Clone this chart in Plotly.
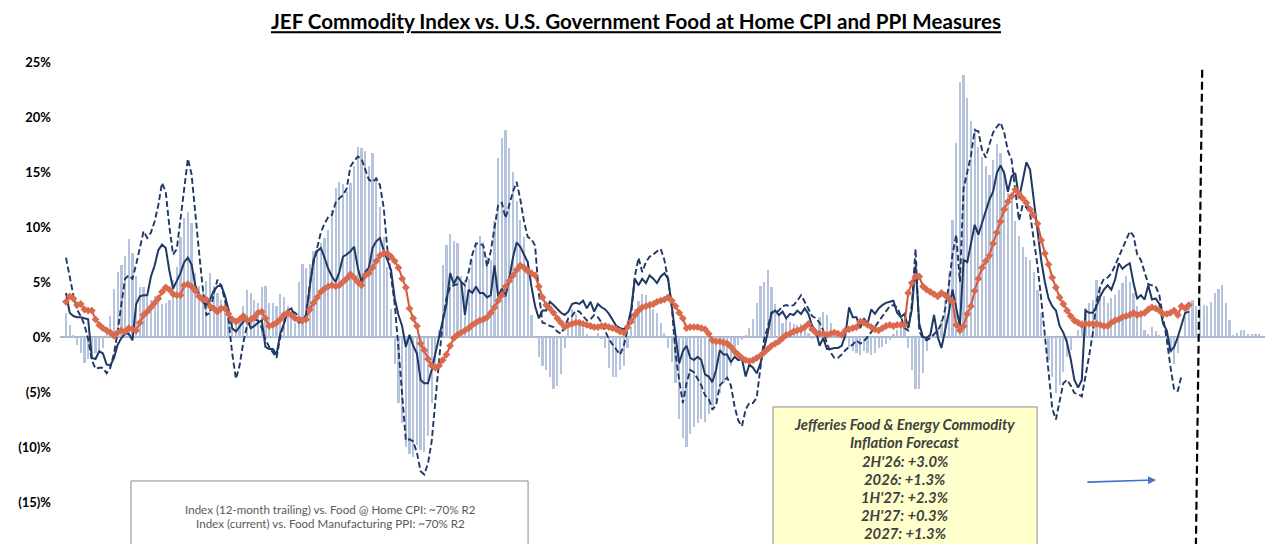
import plotly.graph_objects as go

# JEF commodity index YoY (bars), monthly, incl. forecast tail
jef_index = [
 2.2, 1.1, 0.1, -0.7, -1.5, -2.4, -2.0, -1.5, -1.5, -1.2,
 -1.0, 0.5, 1.9, 4.4, 5.9, 6.5, 7.4, 8.9, 7.6, 5.5,
 4.5, 4.5, 3.7, 3.4, 3.7, 3.2, 3.0, 3.1, 3.4, 5.2,
 6.4, 9.1, 10.8, 11.4, 10.4, 5.8, 4.6, 4.3, 5.1, 5.8,
 4.6, 4.0, 3.4, 2.8, 2.2, 1.9, 1.4, 1.6, 2.8, 4.3,
 4.0, 3.4, 3.1, 4.5, 4.6, 3.1, 3.1, 2.8, 3.9, 3.6,
 2.8, 2.2, 1.3, 5.0, 6.6, 6.3, 6.6, 7.8, 8.0, 8.5,
 9.0, 9.7, 11.5, 13.5, 14.1, 13.9, 13.3, 14.0, 15.5, 17.3,
 17.2, 16.9, 15.5, 16.7, 14.5, 11.8, 9.1, 6.4, 2.5, -2.5,
 -6.0, -7.8, -10.0, -10.6, -10.9, -9.8, -10.3, -10.5, -9.0, -6.0,
 -2.8, 0.6, 6.5, 8.4, 9.4, 8.7, 8.5, 5.5, 5.2, 5.3,
 7.0, 8.5, 9.2, 8.6, 7.3, 7.0, 10.5, 16.3, 18.1, 18.8,
 17.2, 15.0, 12.4, 10.6, 9.1, 7.0, 2.0, -0.1, -1.8, -2.6,
 -3.0, -3.6, -4.7, -4.5, -3.4, -1.0, 1.0, 2.5, 2.1, 1.3,
 0.8, 0.3, 0.0, -0.1, 0.4, -0.2, -1.0, -2.8, -3.6, -3.6,
 -3.0, -2.6, -1.0, 0.9, 2.5, 3.3, 3.9, 3.8, 3.3, 2.5,
 2.2, 1.3, 0.4, -1.0, -2.3, -4.2, -7.5, -9.2, -10.0, -8.8,
 -8.2, -7.8, -7.5, -7.7, -7.0, -6.3, -5.8, -5.1, -4.2, -3.6,
 -2.6, -1.6, -0.7, -0.3, 0.1, 0.8, 1.6, 3.1, 4.6, 5.0,
 6.1, 4.5, 3.0, 2.0, 1.3, 1.7, 1.4, 1.2, 1.1, 1.2,
 0.9, 0.4, -0.2, 0.5, 1.8, 2.3, 2.0, 1.3, 0.0, 0.5,
 0.3, -0.3, -0.9, -1.3, -1.5, -1.6, -1.3, -1.5, -1.6, -1.5,
 -1.0, -0.9, -0.6, -0.3, 0.3, 0.6, 1.2, 1.2, -1.0, -3.0,
 -4.7, -4.7, -3.3, -1.3, 0.0, 0.3, 0.6, 1.5, 3.4, 5.8,
 10.6, 17.6, 23.2, 23.8, 21.7, 19.6, 19.0, 17.3, 16.4, 15.5,
 14.7, 16.1, 17.5, 16.7, 15.2, 13.1, 12.5, 10.5, 9.2, 8.2,
 7.3, 7.0, 5.9, 4.3, 2.2, 0.0, -2.1, -3.6, -5.1, -4.4,
 -3.2, -1.8, -1.2, 0.0, 0.6, 1.5, 2.6, 3.1, 3.4, 5.2,
 4.6, 3.7, 3.1, 3.5, 3.8, 4.3, 4.9, 5.5, 5.0, 4.0,
 2.8, 1.8, 0.6, 0.3, 0.9, 0.5, 0.2, -0.1, -0.6, -1.5,
 -2.5, -1.5, 0.0, 1.8, 2.8, 3.4, 2.8, 2.9, 2.9, 2.8,
 3.2, 4.0, 4.4, 4.7, 3.1, 1.5, 0.2, 0.4, 0.6, 0.6,
 0.3, 0.3, 0.3, 0.3,
]

# Index 12-month trailing (solid)
index_trailing = [
 4.0, 2.2, 1.9, 1.8, 1.8, 1.7, 1.6, -1.9, -2.0, -1.3,
 -1.5, -2.5, -2.6, -1.9, -0.7, -0.1, 0.3, 0.3, -0.3, 3.0,
 3.7, 3.8, 3.8, 5.5, 6.5, 7.9, 8.4, 8.1, 6.0, 4.4,
 5.1, 5.8, 6.8, 7.2, 6.6, 4.7, 3.9, 3.2, 2.9, 3.4,
 4.2, 4.6, 4.7, 3.8, 2.5, 0.8, 0.5, 1.0, 1.4, 1.7,
 0.8, 1.0, 1.3, 1.5, -0.9, -1.1, -1.1, -1.6, 0.3, 1.2,
 2.4, 2.6, 1.8, 1.3, 1.4, 2.0, 4.5, 7.0, 7.8, 8.1,
 7.2, 6.2, 5.5, 5.0, 5.9, 7.3, 7.5, 7.8, 8.2, 6.3,
 5.0, 5.9, 6.3, 8.1, 8.7, 9.0, 7.9, 7.0, 6.1, 3.5,
 2.0, 1.0, -0.9, 0.2, -0.8, -1.5, -3.9, -4.2, -4.2, -3.0,
 -1.5, 0.0, 1.6, 3.0, 5.8, 4.8, 5.5, 5.0, 2.0, 4.3,
 4.0, 4.6, 4.0, 4.0, 3.6, 3.8, 6.5, 3.7, 4.4, 3.7,
 5.3, 7.2, 8.6, 8.2, 7.5, 6.8, 4.6, 2.8, 1.7, 2.4,
 2.4, 3.2, 2.9, 2.5, 2.2, 2.0, 2.3, 3.0, 3.1, 3.0,
 3.3, 2.6, 3.2, 2.3, 3.0, 2.7, 2.5, 2.1, 1.5, 1.0,
 0.8, 0.7, 1.0, 2.5, 5.3, 4.7, 5.3, 4.9, 5.6, 5.3,
 4.9, 5.5, 5.8, 5.3, 2.8, 0.1, -2.4, -1.3, -0.8, -1.9,
 -2.1, -1.8, -2.1, -3.4, -3.6, -4.1, -3.0, -1.2, -1.6, -1.6,
 -2.3, -1.8, -2.1, -2.0, -3.6, -2.5, -2.8, -3.3, -2.4, -1.0,
 0.4, 2.2, 2.4, 2.0, 2.3, 1.7, 2.1, 2.0, 2.4, 2.1,
 2.6, 2.1, 1.0, 0.6, -0.8, -0.1, -1.1, -1.1, -1.0, -1.0,
 -0.8, 0.2, 2.7, 1.8, 1.8, 0.8, 1.7, 1.2, 2.5, 2.1,
 2.6, 2.9, 3.1, 3.2, 3.3, 2.2, 1.8, 2.1, 0.8, 2.5,
 6.5, 1.2, 0.0, -0.1, 0.2, 2.0, 0.0, -1.0, 0.7, 2.2,
 4.3, 2.5, 1.0, 7.0, 6.8, 8.5, 10.2, 9.3, 10.4, 11.6,
 12.5, 13.2, 14.9, 15.6, 14.9, 13.2, 14.6, 14.9, 12.6, 14.2,
 15.9, 15.2, 12.5, 10.0, 7.0, 5.0, 3.5, 2.8, 2.4, 1.0,
 0.4, -0.5, -2.0, -3.9, -4.6, -3.9, 2.4, 2.2, 2.2, 2.8,
 3.7, 4.3, 4.7, 4.3, 5.2, 6.7, 6.2, 6.5, 6.7, 4.9,
 3.5, 3.8, 3.4, 4.7, 3.4, 3.5, 3.0, 1.2, 0.6, -1.3,
 -0.9, 0.0, 1.2, 2.2, 2.3,
]

# Food manufacturing PPI (dashed)
food_ppi = [
 7.2, 5.4, 3.8, 2.5, 1.9, 1.1, -0.2, -2.1, -2.9, -2.8,
 -2.8, -3.3, -2.8, -1.5, 0.5, 3.0, 5.3, 5.6, 5.3, 6.6,
 8.0, 9.6, 9.0, 9.5, 10.5, 12.0, 14.0, 13.2, 10.0, 7.5,
 8.0, 10.6, 13.5, 16.2, 14.8, 11.0, 7.8, 4.5, 2.0, 2.2,
 3.9, 5.2, 4.7, 3.4, 1.6, -1.5, -3.8, -2.6, -0.5, 1.0,
 1.4, 1.6, 1.5, 0.8, -0.2, -0.9, -1.4, -1.9, 0.0, 1.3,
 2.4, 2.4, 2.2, 1.9, 1.4, 2.0, 4.8, 6.7, 8.0, 9.5,
 10.3, 10.9, 11.1, 12.2, 12.6, 12.9, 13.5, 15.5, 16.0, 16.4,
 16.2, 15.3, 14.3, 14.1, 14.4, 13.8, 11.8, 8.0, 5.5, 3.0,
 -1.0, -5.5, -9.4, -9.3, -9.5, -10.5, -12.2, -12.5, -11.5, -9.5,
 -6.0, -2.0, 1.5, 3.5, 4.6, 4.7, 4.8, 5.0, 4.7, 5.9,
 7.5, 8.5, 8.5, 8.3, 6.4, 7.8, 10.0, 12.0, 12.2, 10.8,
 12.0, 13.2, 14.1, 12.5, 10.5, 9.1, 8.9, 8.3, 4.0, 1.3,
 1.2, 1.0, 0.9, 0.5, 0.3, 0.9, 1.7, 1.9, 2.4, 2.3,
 1.9, 1.5, 1.6, 2.0, 1.8, 1.3, 0.5, -0.2, -0.7, -1.2,
 -1.6, -0.8, 0.6, 2.0, 5.5, 7.2, 5.9, 6.8, 7.3, 7.5,
 7.8, 8.0, 7.0, 5.2, 2.8, -1.5, -3.9, -6.0, -4.2, -3.0,
 -3.2, -3.8, -4.4, -5.3, -5.6, -6.6, -6.2, -4.4, -4.0, -3.7,
 -4.4, -6.3, -7.6, -8.1, -6.6, -6.0, -6.0, -5.5, -2.8, -0.2,
 0.9, 2.2, 2.2, 2.4, 2.8, 2.9, 2.8, 2.9, 3.3, 3.8,
 3.2, 2.6, 1.9, 1.7, 1.3, 0.6, -0.6, -1.4, -1.9, -1.9,
 -1.6, -1.2, -0.9, -0.7, -0.3, -0.6, -0.4, 0.0, 0.4, 0.9,
 1.4, 1.9, 2.3, 2.8, 2.9, 2.7, 1.9, 0.8, 0.6, 3.0,
 8.0, 0.5, -0.1, -0.3, -0.1, 0.3, 0.6, 1.2, 2.5, 4.7,
 7.5, 9.3, 5.0, 13.5, 15.0, 16.5, 18.8, 18.7, 17.0, 16.3,
 17.5, 18.6, 19.1, 19.5, 18.6, 16.9, 16.1, 13.5, 10.6, 12.0,
 11.8, 11.2, 9.0, 6.5, 3.5, 0.0, -3.2, -6.5, -7.5, -5.8,
 -4.2, -3.9, -4.4, -5.1, -5.2, -5.4, -3.6, -1.7, 0.4, 3.2,
 4.6, 5.3, 5.4, 5.8, 6.5, 7.3, 8.1, 8.8, 9.6, 9.2,
 7.5, 7.0, 6.0, 4.8, 4.7, 4.6, 3.8, 1.8, -0.2, -2.7,
 -4.8, -4.9, -3.5,
]

# Food at home CPI (red with diamonds)
food_cpi = [
 3.2, 3.7, 3.5, 2.9, 3.0, 2.5, 2.4, 2.4, 1.6, 1.1,
 0.8, 0.6, 0.4, 0.1, 0.4, 0.6, 0.5, 0.8, 0.7, 0.6,
 1.3, 2.0, 2.3, 2.7, 3.1, 3.5, 4.1, 4.5, 4.3, 3.9,
 3.8, 3.8, 4.7, 4.8, 4.6, 4.2, 3.7, 3.4, 3.4, 2.8,
 2.6, 2.3, 2.6, 2.6, 2.1, 1.6, 1.4, 1.6, 1.9, 1.5,
 1.6, 1.8, 2.2, 2.3, 1.7, 1.0, 1.1, 1.3, 1.6, 2.0,
 2.2, 2.0, 1.7, 1.6, 1.5, 1.6, 2.5, 3.1, 3.6, 4.1,
 4.4, 4.6, 4.7, 4.6, 4.7, 5.0, 5.3, 5.7, 5.4, 5.0,
 4.7, 5.6, 5.8, 6.3, 6.9, 7.4, 7.6, 7.6, 7.3, 6.9,
 6.3, 5.3, 4.5, 2.6, 1.7, 1.0, -0.6, -1.2, -2.0, -2.6,
 -2.8, -2.6, -2.1, -1.6, -0.8, -0.1, 0.2, 0.4, 0.6, 0.8,
 1.1, 1.3, 1.5, 1.6, 1.8, 2.2, 2.7, 3.3, 3.8, 4.6,
 5.1, 5.6, 6.1, 6.5, 6.3, 6.0, 5.8, 5.6, 4.6, 3.6,
 2.9, 2.6, 2.2, 1.7, 1.3, 0.9, 1.1, 1.2, 1.3, 1.3,
 1.2, 1.1, 1.0, 0.9, 0.9, 1.0, 1.0, 0.9, 0.8, 0.7,
 0.5, 0.4, 0.9, 1.4, 2.0, 2.4, 2.7, 2.8, 2.9, 3.0,
 3.2, 3.3, 3.4, 3.6, 3.3, 2.8, 2.2, 1.7, 0.8, 0.9,
 0.9, 0.9, 0.8, 0.7, 0.3, -0.3, -0.4, -0.4, -0.5, -0.6,
 -0.9, -1.3, -1.6, -1.9, -2.1, -2.2, -2.1, -1.9, -1.7, -1.4,
 -1.1, -0.8, -0.6, -0.4, -0.1, 0.2, 0.3, 0.5, 0.6, 0.7,
 0.9, 1.2, 0.7, 0.4, 0.3, 0.3, 0.2, 0.3, 0.4, 0.3,
 0.2, 0.6, 0.7, 0.8, 0.9, 1.4, 1.3, 1.1, 0.9, 0.7,
 0.6, 0.8, 1.0, 1.1, 1.0, 1.1, 1.1, 1.1, 4.0, 4.9,
 5.5, 5.5, 4.6, 4.3, 4.1, 3.9, 3.7, 4.0, 3.8, 3.5,
 3.2, 1.1, 0.6, 1.0, 2.1, 2.8, 4.2, 5.3, 6.3, 6.9,
 7.4, 8.5, 9.5, 10.5, 11.6, 12.3, 12.8, 13.4, 13.0, 12.6,
 12.2, 11.6, 11.1, 10.3, 8.8, 7.6, 6.6, 5.4, 4.5, 3.6,
 3.0, 2.4, 1.9, 1.5, 1.3, 1.1, 1.2, 1.2, 1.2, 1.2,
 1.1, 1.0, 1.0, 1.3, 1.5, 1.6, 1.8, 1.9, 2.0, 2.2,
 2.0, 2.1, 2.2, 2.5, 2.7, 2.6, 2.4, 2.1, 2.1, 2.2,
 2.4, 2.0, 2.8, 2.6, 2.9,
]

tick_values = [25, 20, 15, 10, 5, 0, -5, -10, -15]
tick_labels = ["25%", "20%", "15%", "10%", "5%", "0%", "(5)%", "(10)%", "(15)%"]

forecast_lines = ["Jefferies Food & Energy Commodity", "Inflation Forecast",
                  "2H'26: +3.0%", "2026: +1.3%", "1H'27: +2.3%", "2H'27: +0.3%", "2027: +1.3%"]
note_lines = ["Index (12-month trailing) vs. Food @ Home CPI: ~70% R2",
              "Index (current) vs. Food Manufacturing PPI: ~70% R2"]

months = list(range(len(jef_index)))

fig = go.Figure()
fig.add_trace(go.Bar(x=months, y=jef_index, width=0.6, marker=dict(color="#b5c3dc", line=dict(width=0)),
                     name="JEF Index"))
fig.add_trace(go.Scatter(x=months[:len(food_ppi)], y=food_ppi, mode="lines",
                         line=dict(color="#1f3864", width=1.9, dash="6px,3px"), name="PPI"))
fig.add_trace(go.Scatter(x=months[:len(index_trailing)], y=index_trailing, mode="lines",
                         line=dict(color="#1f3864", width=2), name="Index trailing"))
fig.add_trace(go.Scatter(x=months[:len(food_cpi)], y=food_cpi, mode="lines+markers",
                         line=dict(color="#d2563a", width=2),
                         marker=dict(symbol="diamond", size=6, color="#da6a4d"), name="CPI"))

# page body has an 8px margin, so the figure is sized to fit the window
W, H = 1272, 536
fig.update_layout(
    width=W, height=H,
    margin=dict(l=52, r=15, t=42, b=0),
    paper_bgcolor="white", plot_bgcolor="white",
    showlegend=False, bargap=0,
    title=dict(text="<b><u>JEF Commodity Index vs. U.S. Government Food at Home CPI and PPI Measures</u></b>",
               x=628 / W, xanchor="center", y=1 - 14 / H, yanchor="middle",
               font=dict(family="Lato", size=20.6, color="#000000")),
    xaxis=dict(range=[-1.62, 324.6], showticklabels=False, showgrid=False, zeroline=False,
               showline=False, ticks=""),
    yaxis=dict(range=[-18.82, 26.09], tickvals=tick_values, ticktext=tick_labels,
               showgrid=False, zeroline=True, zerolinecolor="#a9b6cc", zerolinewidth=1.5,
               showline=False, ticks="", ticklabelstandoff=8,
               tickfont=dict(family="Lato", size=13, color="#000000", weight="bold")),
)

# Forecast divider
fig.add_shape(type="line", xref="x", yref="y", x0=307.6, y0=24.3, x1=305.9, y1=-18.82,
              line=dict(color="#000000", width=2.2, dash="8px,4px"))

# Left note box
fig.add_shape(type="rect", xref="x", yref="y", x0=17.6, x1=125.1, y0=-13.09, y1=-19.5,
              line=dict(color="#8c8c8c", width=1), fillcolor="white", layer="above")
for txt, yv in zip(note_lines, [-15.64, -17.0]):
    fig.add_annotation(x=71.5, y=yv, xref="x", yref="y", showarrow=False, text=txt,
                       font=dict(family="Lato", size=11.6, color="#595959"))

# Forecast box
fig.add_shape(type="rect", xref="x", yref="y", x0=191.4, x1=262.9, y0=-6.36, y1=-19.5,
              line=dict(color="#8c8c8c", width=1), fillcolor="#ffffcc", layer="above")
for txt, yv in zip(forecast_lines, [-7.91, -9.55, -11.27, -12.91, -14.55, -16.18, -17.82]):
    fig.add_annotation(x=227.1, y=yv, xref="x", yref="y", showarrow=False,
                       text="<b><i>%s</i></b>" % txt,
                       font=dict(family="Lato", size=14.8, color="#404040"))

# Arrow
fig.add_annotation(x=295.1, y=-13.0, ax=276.1, ay=-13.2, xref="x", yref="y", axref="x", ayref="y",
                   text="", showarrow=True, arrowhead=2, arrowsize=1, arrowwidth=1.6,
                   arrowcolor="#4472c4")

fig.write_html("out.html")
